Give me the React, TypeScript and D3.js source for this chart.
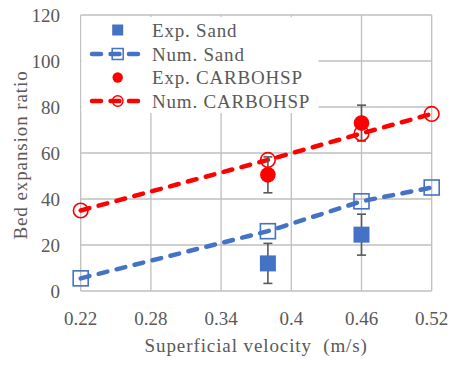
import React from "react";
import * as d3 from "d3";

// Superficial velocity (m/s)
const numVelocity = [0.22, 0.38, 0.46, 0.52];
const expVelocity = [0.38, 0.46];

// Bed expansion ratio
const numSand = [5.5, 26, 39, 45];
const numCarbo = [35, 57, 68.5, 77];
const expSand = [12, 24.5];
const expSandErr = [8.7, 8.9];
const expCarbo = [50.5, 73];
const expCarboErr = [7.8, 7.8];

const xTicks = [0.22, 0.28, 0.34, 0.4, 0.46, 0.52];
const yTicks = [0, 20, 40, 60, 80, 100, 120];

const legendLabels = ["Exp. Sand", "Num. Sand", "Exp. CARBOHSP", "Num. CARBOHSP"];

const W = 449;
const H = 365;
const BLUE = "#4472C4";
const RED = "#FF0000";
const GRID = "#BFBFBF";
const TEXT = "#595959";
const FONT = "'Liberation Serif', 'Times New Roman', serif";

export default function App() {
  const x = d3.scaleLinear().domain([0.22, 0.52]).range([80.7, 431.7]);
  const y = d3.scaleLinear().domain([0, 120]).range([291, 15]);

  const line = d3
    .line<[number, number]>()
    .x((d) => x(d[0]))
    .y((d) => y(d[1]));

  const sandPts: [number, number][] = numVelocity.map((v, i) => [v, numSand[i]]);
  const carboPts: [number, number][] = numVelocity.map((v, i) => [v, numCarbo[i]]);

  const dash = "9 9.5";
  const lw = 4.5;

  const legendY = [30, 54, 77.5, 101];
  const legX = 117.7;

  const errBar = (vx: number, vy: number, e: number, key: string) => {
    const cx = x(vx);
    return (
      <g key={key} stroke={TEXT} strokeWidth={1.6}>
        <line x1={cx} x2={cx} y1={y(vy - e)} y2={y(vy + e)} />
        <line x1={cx - 4.5} x2={cx + 4.5} y1={y(vy - e)} y2={y(vy - e)} />
        <line x1={cx - 4.5} x2={cx + 4.5} y1={y(vy + e)} y2={y(vy + e)} />
      </g>
    );
  };

  return (
    <svg
      width={W}
      height={H}
      style={{ position: "absolute", left: 0, top: 0, background: "#fff" }}
      fontFamily={FONT}
    >
      {/* grid */}
      <g stroke={GRID} strokeWidth={1.3}>
        {yTicks.map((t) => (
          <line key={"gy" + t} x1={x(0.22)} x2={x(0.52)} y1={y(t)} y2={y(t)} />
        ))}
        {xTicks.map((t) => (
          <line key={"gx" + t} x1={x(t)} x2={x(t)} y1={y(0)} y2={y(120)} />
        ))}
      </g>

      {/* legend box covering the grid */}
      <rect x={81.5} y={17} width={237} height={96} fill="#fff" />

      {/* y tick labels */}
      <g fill={TEXT} fontSize={19} textAnchor="end">
        {yTicks.map((t) => (
          <text key={"ty" + t} x={60} y={y(t) + 6.5}>
            {t}
          </text>
        ))}
      </g>
      {/* x tick labels */}
      <g fill={TEXT} fontSize={19} textAnchor="middle">
        {xTicks.map((t) => (
          <text key={"tx" + t} x={x(t)} y={325}>
            {String(t)}
          </text>
        ))}
      </g>

      {/* axis titles */}
      <text
        x={x(0.37)}
        y={351.5}
        fill={TEXT}
        fontSize={19}
        letterSpacing={0.9}
        textAnchor="middle"
        xmlSpace="preserve"
      >
        {"Superficial velocity  (m/s)"}
      </text>
      <text
        transform={`translate(26.5,${155}) rotate(-90)`}
        fill={TEXT}
        fontSize={19}
        letterSpacing={0.9}
        textAnchor="middle"
      >
        Bed expansion ratio
      </text>

      {/* numerical lines */}
      <path
        d={line(carboPts) || ""}
        fill="none"
        stroke={RED}
        strokeWidth={lw}
        strokeDasharray={dash}
        strokeLinecap="round"
      />
      <path
        d={line(sandPts) || ""}
        fill="none"
        stroke={BLUE}
        strokeWidth={lw}
        strokeDasharray={dash}
        strokeLinecap="round"
      />

      {/* error bars */}
      {expVelocity.map((v, i) => errBar(v, expSand[i], expSandErr[i], "es" + i))}
      {expVelocity.map((v, i) => errBar(v, expCarbo[i], expCarboErr[i], "ec" + i))}

      {/* experimental markers */}
      {expVelocity.map((v, i) => (
        <rect
          key={"ms" + i}
          x={x(v) - 8}
          y={y(expSand[i]) - 8}
          width={16}
          height={16}
          fill={BLUE}
        />
      ))}
      {expVelocity.map((v, i) => (
        <circle key={"mc" + i} cx={x(v)} cy={y(expCarbo[i])} r={7.8} fill={RED} />
      ))}

      {/* numerical markers */}
      {sandPts.map((p, i) => (
        <rect
          key={"ns" + i}
          x={x(p[0]) - 7.5}
          y={y(p[1]) - 7.5}
          width={15}
          height={15}
          fill="none"
          stroke={BLUE}
          strokeWidth={1.6}
        />
      ))}
      {carboPts.map((p, i) => (
        <circle
          key={"nc" + i}
          cx={x(p[0])}
          cy={y(p[1])}
          r={7.3}
          fill="none"
          stroke={RED}
          strokeWidth={1.6}
        />
      ))}

      {/* legend */}
      <g>
        <rect x={legX - 5.5} y={legendY[0] - 5.5} width={11} height={11} fill={BLUE} />
        <line
          x1={92}
          x2={145}
          y1={legendY[1]}
          y2={legendY[1]}
          stroke={BLUE}
          strokeWidth={lw}
          strokeDasharray={dash}
          strokeLinecap="round"
        />
        <rect
          x={legX - 5.5}
          y={legendY[1] - 5.5}
          width={11}
          height={11}
          fill="none"
          stroke={BLUE}
          strokeWidth={1.5}
        />
        <circle cx={legX} cy={legendY[2]} r={5.2} fill={RED} />
        <line
          x1={92}
          x2={145}
          y1={legendY[3]}
          y2={legendY[3]}
          stroke={RED}
          strokeWidth={lw}
          strokeDasharray={dash}
          strokeLinecap="round"
        />
        <circle
          cx={legX}
          cy={legendY[3]}
          r={5.3}
          fill="none"
          stroke={RED}
          strokeWidth={1.5}
        />
        <g fill={TEXT} fontSize={19} letterSpacing={0.8}>
          {legendLabels.map((l, i) => (
            <text key={l} x={152} y={legendY[i] + 6.5}>
              {l}
            </text>
          ))}
        </g>
      </g>
    </svg>
  );
}
